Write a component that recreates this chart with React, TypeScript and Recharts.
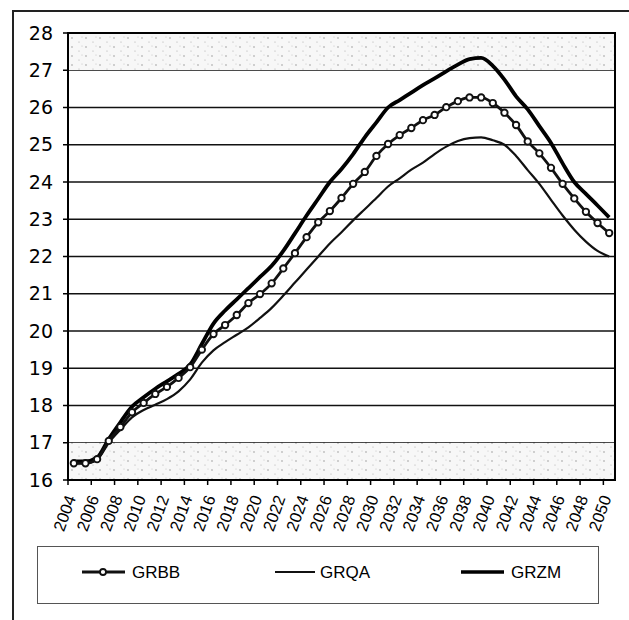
import React from 'react';
import { LineChart, Line, XAxis, YAxis, CartesianGrid, ReferenceArea } from 'recharts';

const years = [
  2004, 2005, 2006, 2007, 2008, 2009, 2010, 2011, 2012, 2013,
  2014, 2015, 2016, 2017, 2018, 2019, 2020, 2021, 2022, 2023,
  2024, 2025, 2026, 2027, 2028, 2029, 2030, 2031, 2032, 2033,
  2034, 2035, 2036, 2037, 2038, 2039, 2040, 2041, 2042, 2043,
  2044, 2045, 2046, 2047, 2048, 2049, 2050,
];

const grbb = [
  16.45, 16.45, 16.56, 17.05, 17.42, 17.82, 18.07, 18.31, 18.5, 18.74,
  19.03, 19.5, 19.92, 20.16, 20.43, 20.75, 20.99, 21.28, 21.68, 22.09,
  22.52, 22.92, 23.22, 23.57, 23.95, 24.27, 24.7, 25.02, 25.26, 25.45,
  25.66, 25.8, 26.01, 26.17, 26.27, 26.27, 26.12, 25.86, 25.53, 25.09,
  24.77, 24.38, 23.95, 23.56, 23.2, 22.9, 22.63,
];

const grqa = [
  16.45, 16.45, 16.55, 17.0, 17.35, 17.68, 17.88, 18.02, 18.17, 18.38,
  18.7, 19.15, 19.48, 19.7, 19.9, 20.1, 20.35, 20.62, 20.95, 21.3,
  21.65, 22.0, 22.35, 22.65, 22.97, 23.27, 23.57, 23.88, 24.1, 24.33,
  24.52, 24.75, 24.95, 25.1, 25.18, 25.2, 25.12, 25.0, 24.7, 24.32,
  23.95, 23.52, 23.1, 22.72, 22.4, 22.15, 22.0,
];

const grzm = [
  16.5, 16.5, 16.6, 17.1, 17.55, 17.97, 18.22, 18.45, 18.65, 18.85,
  19.1, 19.65, 20.2, 20.55, 20.85, 21.15, 21.45, 21.75, 22.15, 22.62,
  23.1, 23.55, 24.0, 24.35, 24.75, 25.2, 25.6, 26.0, 26.2, 26.4,
  26.6, 26.78, 26.97, 27.15, 27.3, 27.33, 27.12, 26.75, 26.3, 25.95,
  25.5, 25.05, 24.5, 24.0, 23.68, 23.37, 23.05,
];

const yearTicks = [
  2004, 2006, 2008, 2010, 2012, 2014, 2016, 2018, 2020, 2022, 2024, 2026,
  2028, 2030, 2032, 2034, 2036, 2038, 2040, 2042, 2044, 2046, 2048, 2050,
];
const valueTicks = [16, 17, 18, 19, 20, 21, 22, 23, 24, 25, 26, 27, 28];

const data = years.map((year, i) => ({
  year,
  GRBB: grbb[i],
  GRQA: grqa[i],
  GRZM: grzm[i],
}));

// plot is 547px wide for 47 yearly slots
const HALF_SLOT = 547 / 47 / 2;

const YearTick = (props: any) => {
  const { x, y, payload } = props;
  const tx = x - 3;
  const ty = y + 11;
  return (
    <g>
      <line x1={x - HALF_SLOT} x2={x - HALF_SLOT} y1={y - 5} y2={y} stroke="#000" strokeWidth={1.5} />
      <text
        x={tx}
        y={ty}
        dy="0.35em"
        textAnchor="end"
        transform={`rotate(-70 ${tx} ${ty})`}
        fontFamily="'Liberation Sans', Arial, sans-serif"
        fontSize={16.5}
        fill="#000"
      >
        {payload.value}
      </text>
    </g>
  );
};

const Legend = () => (
  <svg
    width={562}
    height={58}
    style={{ position: 'absolute', left: 37, top: 546 }}
  >
    <rect x={0.5} y={0.5} width={561} height={57} fill="#fff" stroke="#555" strokeWidth={1} />
    <g fontFamily="'Liberation Sans', Arial, sans-serif" fontSize={17} fill="#000">
      <line x1={45} x2={88} y1={26} y2={26} stroke="#111" strokeWidth={3} />
      <circle cx={66} cy={26} r={3} fill="#fff" stroke="#111" strokeWidth={1.8} />
      <text x={95} y={26} dy="0.35em">GRBB</text>
      <line x1={238} x2={278} y1={26} y2={26} stroke="#111" strokeWidth={2} />
      <text x={283} y={26} dy="0.35em">GRQA</text>
      <line x1={424} x2={467} y1={26} y2={26} stroke="#000" strokeWidth={3.5} />
      <text x={474} y={26} dy="0.35em">GRZM</text>
    </g>
  </svg>
);

const App: React.FC = () => {
  return (
    <div style={{ position: 'absolute', left: 0, top: 0, width: 629, height: 620, overflow: 'hidden', background: '#fff' }}>
      <div
        style={{
          position: 'absolute',
          left: 12,
          top: 10,
          width: 660,
          height: 660,
          borderLeft: '2px solid #222',
          borderTop: '2px solid #222',
        }}
      />
      <div style={{ position: 'absolute', left: 0, top: 0 }}>
        <LineChart width={629} height={620} data={data} margin={{ top: 33, right: 14, bottom: 80, left: 0 }}>
          <defs>
            <pattern id="speck" width="14" height="9" patternUnits="userSpaceOnUse">
              <rect width="14" height="9" fill="#f7f7f7" />
              <circle cx="2" cy="2" r="0.7" fill="#888" />
              <circle cx="9" cy="6" r="0.6" fill="#aaa" />
              <circle cx="12" cy="1" r="0.5" fill="#bbb" />
            </pattern>
          </defs>
          <ReferenceArea y1={27} y2={28} x1={2003.5} x2={2050.5} fill="url(#speck)" fillOpacity={1} stroke="none" />
          <ReferenceArea y1={16} y2={17} x1={2003.5} x2={2050.5} fill="url(#speck)" fillOpacity={1} stroke="none" />
          <CartesianGrid vertical={false} stroke="#111" strokeWidth={1.5} />
          <XAxis
            dataKey="year"
            type="number"
            domain={[2003.5, 2050.5]}
            ticks={yearTicks}
            interval={0}
            axisLine={false}
            tickLine={false}
            tickSize={5}
            tickMargin={0}
            height={60}
            tick={<YearTick />}
          />
          <YAxis
            domain={[16, 28]}
            ticks={valueTicks}
            interval={0}
            width={68}
            axisLine={false}
            tickLine={{ stroke: '#000', strokeWidth: 1.5 }}
            tickSize={5}
            tickMargin={10}
            tick={{ fontFamily: "'DejaVu Sans', Verdana, sans-serif", fontSize: 19, fill: '#000' }}
          />
          <ReferenceArea y1={16} y2={28} x1={2003.5} x2={2050.5} fill="none" stroke="#000" strokeWidth={2} />
          <Line dataKey="GRQA" type="monotone" stroke="#111" strokeWidth={2.2} dot={false} isAnimationActive={false} />
          <Line dataKey="GRZM" type="monotone" stroke="#000" strokeWidth={3.8} dot={false} isAnimationActive={false} />
          <Line
            dataKey="GRBB"
            type="monotone"
            stroke="#111"
            strokeWidth={2.8}
            dot={{ r: 3.2, fill: '#fff', stroke: '#111', strokeWidth: 1.9 }}
            isAnimationActive={false}
          />
        </LineChart>
      </div>
      <Legend />
    </div>
  );
};

export default App;
